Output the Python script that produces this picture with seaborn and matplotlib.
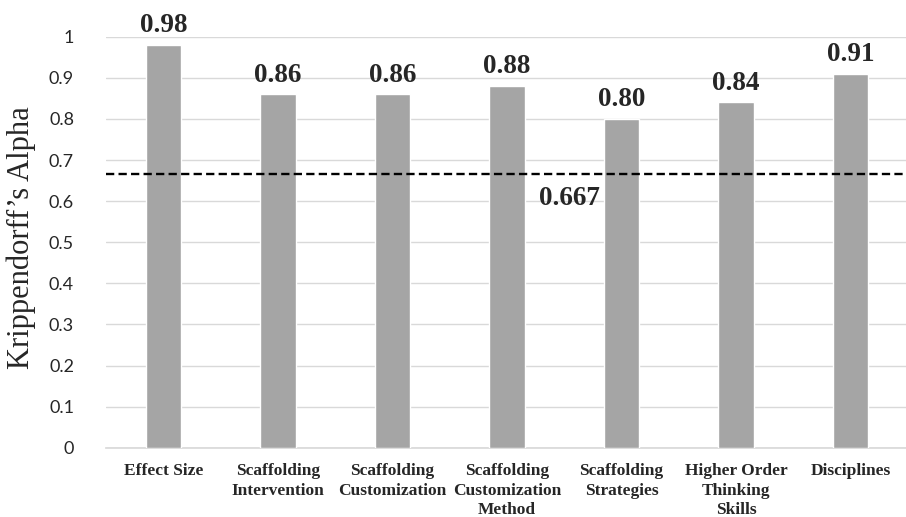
import matplotlib
matplotlib.use("Agg")
import matplotlib.pyplot as plt
import seaborn as sns
import pandas as pd

categories = [
    "Effect Size",
    "Scaffolding\nIntervention",
    "Scaffolding\nCustomization",
    "Scaffolding\nCustomization\nMethod",
    "Scaffolding\nStrategies",
    "Higher Order\nThinking\nSkills",
    "Disciplines",
]
alpha_values = [0.98, 0.86, 0.86, 0.88, 0.80, 0.84, 0.91]
value_labels = ["0.98", "0.86", "0.86", "0.88", "0.80", "0.84", "0.91"]
threshold = 0.667
y_ticks = [0, 0.1, 0.2, 0.3, 0.4, 0.5, 0.6, 0.7, 0.8, 0.9, 1]
y_tick_labels = ["0", "0.1", "0.2", "0.3", "0.4", "0.5", "0.6", "0.7", "0.8", "0.9", "1"]

df = pd.DataFrame({"category": categories, "alpha": alpha_values})

sns.set_theme(style="white")
fig = plt.figure(figsize=(9.06, 5.17), dpi=100)
ax = fig.add_axes([0.117, 0.134, 0.885, 0.795])

sns.barplot(data=df, x="category", y="alpha", color="#a5a5a5", saturation=1,
            width=0.31, ax=ax, zorder=3)

ax.set_ylim(0, 1)
ax.set_xlim(-0.5, len(categories) - 0.5)
ax.set_yticks(y_ticks)
ax.set_yticklabels(y_tick_labels, fontfamily="Lato", fontsize=13, color="#262626")
ax.yaxis.grid(True, color="#d9d9d9", linewidth=1, zorder=0)
ax.tick_params(axis="y", length=0, pad=23)
ax.tick_params(axis="x", length=0, pad=11)
for lbl in ax.get_xticklabels():
    lbl.set_fontfamily("Liberation Serif")
    lbl.set_fontweight("bold")
    lbl.set_fontsize(12.5)
    lbl.set_linespacing(1.3)
    lbl.set_verticalalignment("top")

for s in ["top", "right", "left"]:
    ax.spines[s].set_visible(False)
ax.spines["bottom"].set_color("#d9d9d9")

ax.set_xlabel("")
ax.set_ylabel("")
fig.text(0.024, 0.541, "Krippendorff\u2019s Alpha", rotation=90, ha="center", va="center",
         fontfamily="Liberation Serif", fontsize=22)

for i, (v, t) in enumerate(zip(alpha_values, value_labels)):
    ax.text(i, v + 0.016, t, ha="center", va="bottom",
            fontfamily="Liberation Serif", fontweight="bold", fontsize=19.5, zorder=5)

ax.axhline(threshold, color="black", linestyle=(0, (3.5, 1.8)), linewidth=1.7, zorder=4)
ax.text(3.55, threshold - 0.03, f"{threshold:.3f}", ha="center", va="top",
        fontfamily="Liberation Serif", fontweight="bold", fontsize=19.5, zorder=5)

fig.savefig("out.png", dpi=100, facecolor="white")
